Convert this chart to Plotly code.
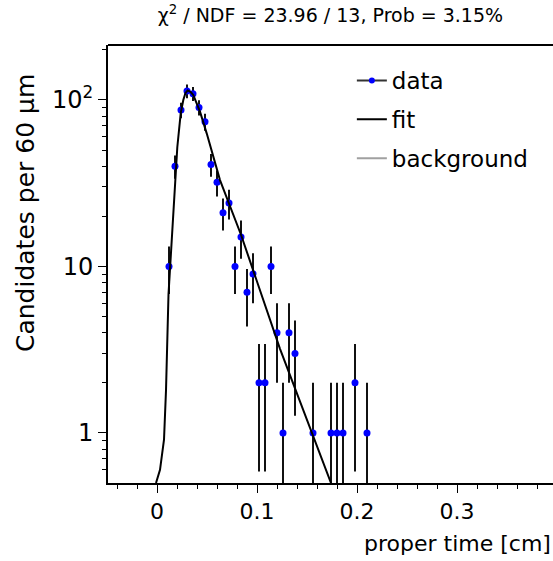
import numpy as np
import plotly.graph_objects as go

# ---- data ----
time_cm = [0.012, 0.018, 0.024, 0.030, 0.036, 0.042, 0.048, 0.054, 0.060, 0.066,
           0.072, 0.078, 0.084, 0.090, 0.096, 0.102, 0.108, 0.114, 0.120, 0.126,
           0.132, 0.138, 0.156, 0.174, 0.180, 0.186, 0.198, 0.210]
counts = [10, 40, 87, 113, 109, 90, 74, 41, 32, 21,
          24, 10, 15, 7, 9, 2, 2, 10, 4, 1,
          4, 3, 1, 1, 1, 1, 2, 1]

fit_x = [-0.001, 0.003, 0.007, 0.009, 0.0115, 0.0147, 0.018, 0.0203, 0.0237, 0.0263,
         0.0285, 0.0307, 0.0335, 0.0363, 0.043, 0.0497, 0.063, 0.084, 0.123, 0.174]
fit_y = [0.5, 0.6, 0.91, 1.8, 6.8, 14.4, 31, 52, 83, 100,
         110, 114, 112, 107, 85, 63, 33, 15.5, 3.2, 0.5]

bg_x = [-0.05, 0.4]
bg_y = [0.01, 0.01]

x_ticks = [0, 0.1, 0.2, 0.3]
x_ticktext = ["0", "0.1", "0.2", "0.3"]
y_ticks = [1, 10, 100]
y_ticktext = ["1", "10", "10<sup>2</sup>"]

title_text = "\u03c7<sup>2</sup> / NDF = 23.96 / 13, Prob = 3.15%"
xlabel = "proper time [cm]"
ylabel = "Candidates per 60 \u03bcm"

FONT = "DejaVu Sans"

cnt = np.array(counts, dtype=float)
err = np.sqrt(cnt)
err_minus = np.where(cnt - err > 0, err, cnt * 0.999)

fig = go.Figure()

fig.add_trace(go.Scatter(
    x=time_cm, y=counts, mode="markers",
    marker=dict(color="#0000ff", size=7),
    error_y=dict(type="data", array=err, arrayminus=err_minus, symmetric=False,
                 color="#111111", thickness=2, width=0),
    showlegend=False, name="data",
))
# legend entry for data
fig.add_trace(go.Scatter(
    x=[None], y=[None], mode="lines+markers", name="data",
    line=dict(color="#333333", width=2), marker=dict(color="#0000ff", size=6),
    legendgroup="a",
))
fig.add_trace(go.Scatter(
    x=fit_x, y=fit_y, mode="lines", name="fit",
    line=dict(color="black", width=2), legendgroup="b",
))
fig.add_trace(go.Scatter(
    x=bg_x, y=bg_y, mode="lines", name="background",
    line=dict(color="#a0a0a0", width=2), legendgroup="c",
))

fig.update_layout(
    width=553, height=561,
    margin=dict(l=108, r=0, t=45, b=78),
    paper_bgcolor="white", plot_bgcolor="white",
    font=dict(family=FONT, color="black"),
    title=dict(text=title_text, x=0.5975, xanchor="center", xref="container",
               y=1 - 15 / 561, yanchor="middle", yref="container",
               font=dict(size=19, family=FONT, color="black")),
    showlegend=True,
    legend=dict(x=0.548, xanchor="left", y=0.968, yanchor="top",
                font=dict(size=23, family=FONT, color="black"),
                bgcolor="rgba(0,0,0,0)", traceorder="grouped",
                tracegroupgap=6, itemwidth=30),
)

fig.update_xaxes(
    range=[-0.049, 0.396], showgrid=False, zeroline=False,
    showline=True, linecolor="black", linewidth=2,
    tickmode="array", tickvals=x_ticks, ticktext=x_ticktext,
    ticks="outside", ticklen=8, tickwidth=1, tickcolor="black",
    tickfont=dict(size=22, family=FONT),
    minor=dict(tickvals=[-0.04, -0.02, 0.02, 0.04, 0.06, 0.08, 0.12, 0.14, 0.16, 0.18,
                         0.22, 0.24, 0.26, 0.28, 0.32, 0.34, 0.36, 0.38],
               ticks="outside", ticklen=4, tickwidth=1, tickcolor="black"),
)
fig.update_yaxes(
    type="log", range=[np.log10(0.5), 2.33], showgrid=False, zeroline=False,
    showline=True, linecolor="black", linewidth=2,
    tickmode="array", tickvals=y_ticks, ticktext=y_ticktext,
    ticks="outside", ticklen=8, tickwidth=1, tickcolor="black",
    tickfont=dict(size=24, family=FONT),
    minor=dict(tickvals=[0.6, 0.7, 0.8, 0.9, 2, 3, 4, 5, 6, 7, 8, 9,
                         20, 30, 40, 50, 60, 70, 80, 90, 200],
               ticks="outside", ticklen=4, tickwidth=1, tickcolor="black"),
)

# top frame line
fig.add_shape(type="line", xref="paper", yref="paper", x0=0, x1=1, y0=1, y1=1,
              line=dict(color="black", width=2))

fig.add_annotation(text=xlabel, xref="paper", yref="paper", x=1.0, y=-(543 - 483) / 438,
                   xanchor="right", yanchor="middle", showarrow=False,
                   font=dict(size=22, family=FONT, color="black"))
fig.add_annotation(text=ylabel, xref="paper", yref="paper", x=(25 - 108) / 445,
                   y=(483 - 72) / 438, xanchor="center", yanchor="top",
                   textangle=-90, showarrow=False,
                   font=dict(size=25, family=FONT, color="black"))

fig.write_html("out.html")
